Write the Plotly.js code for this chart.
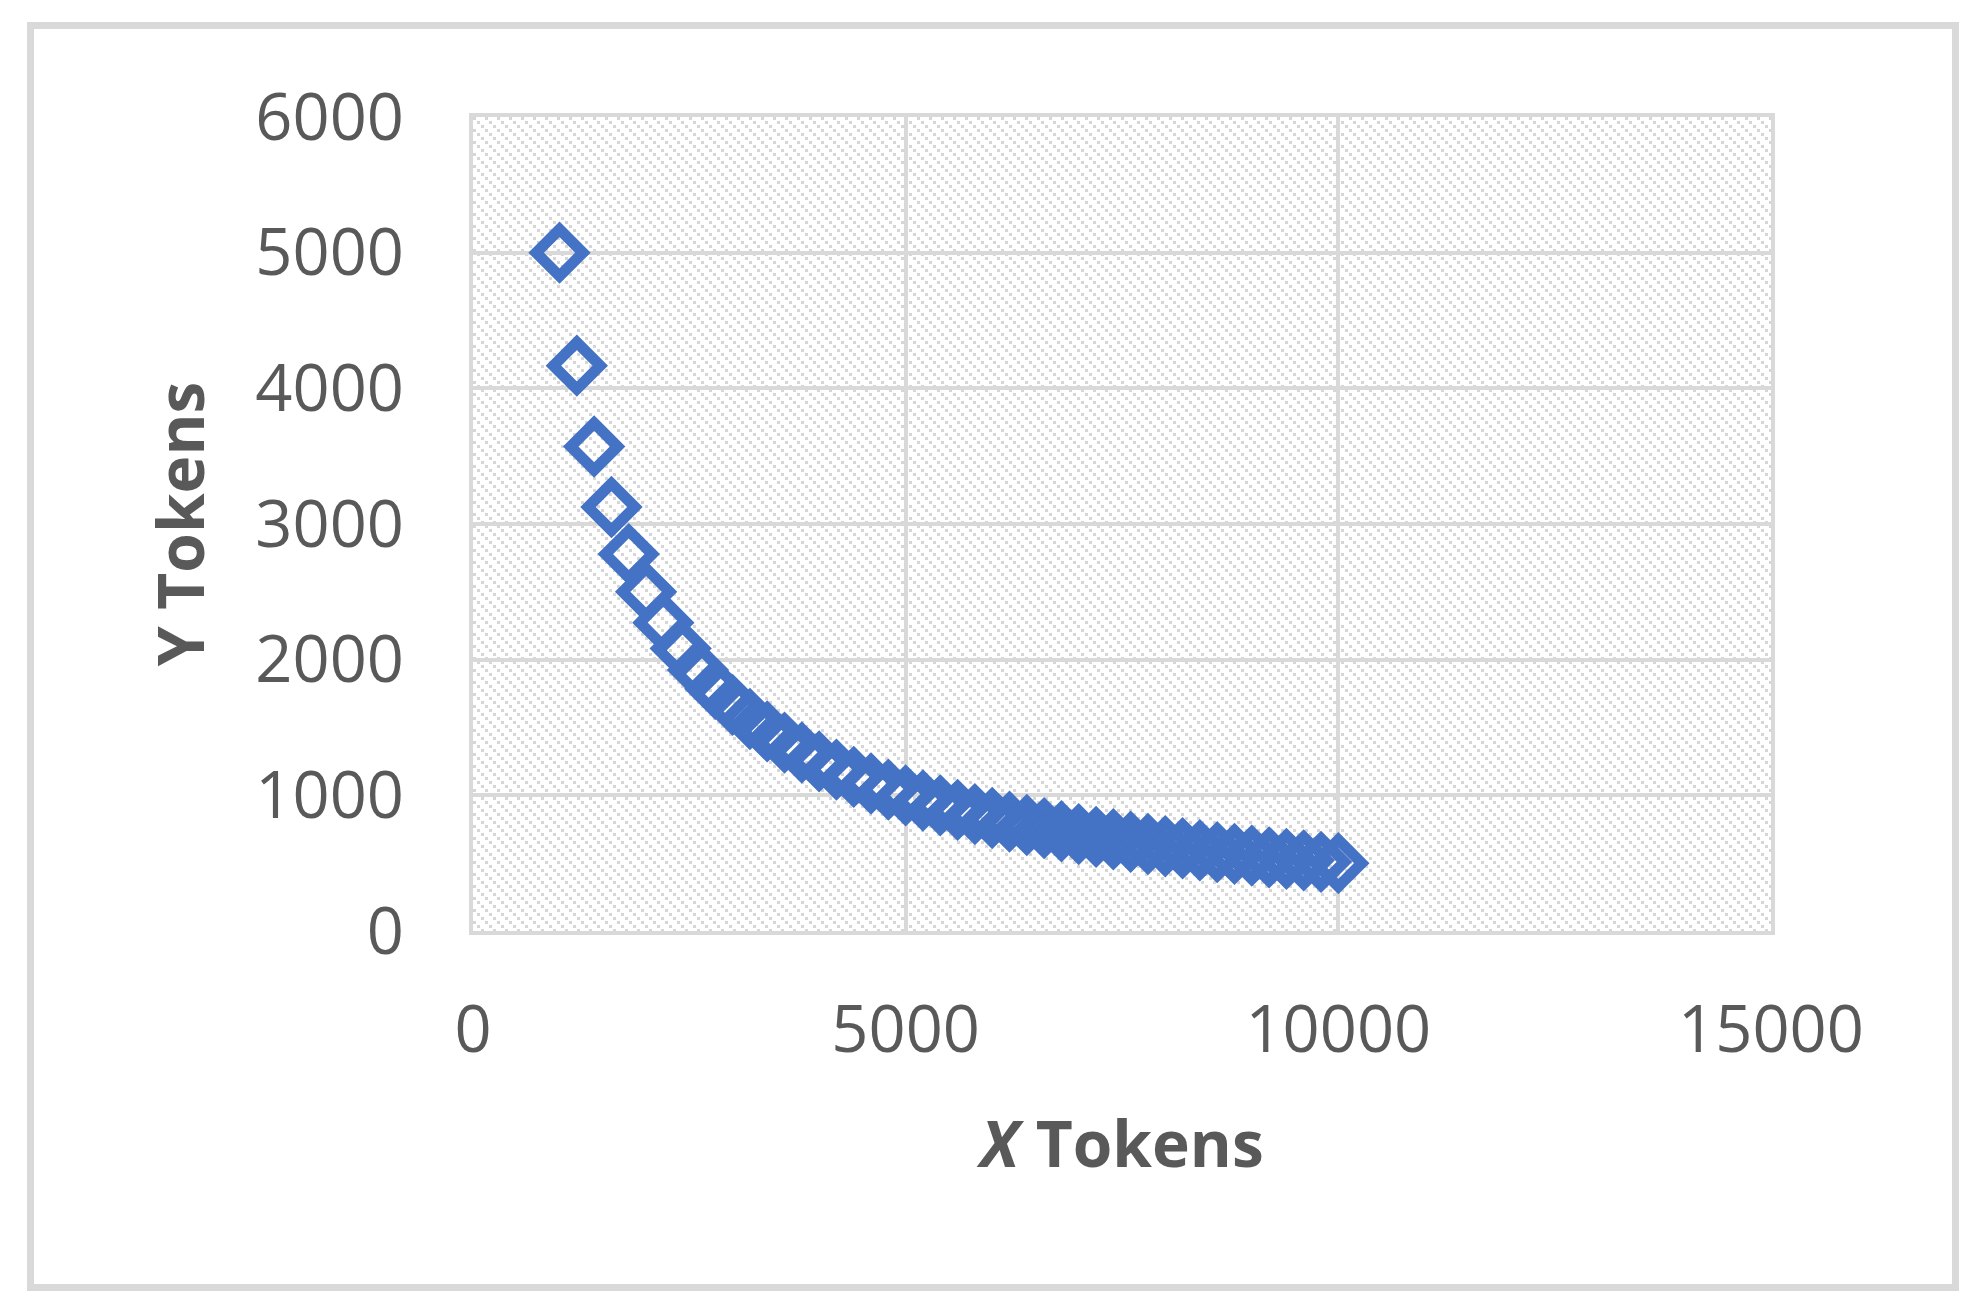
<!DOCTYPE html>
<html>
<head>
<meta charset="utf-8">
<script src="https://cdn.plot.ly/plotly-3.0.1.min.js"></script>
<style>
  body { margin: 0; background: #fff; }
  #plotArea { width: 1988px; height: 1316px; }
  #frame {
    position: absolute; left: 27px; top: 22px;
    width: 1918px; height: 1255px;
    border: 7px solid #d9d9d9; pointer-events: none;
  }
</style>
</head>
<body>
<div id="plotArea"></div>
<div id="frame"></div>
<script>
// x / y token pairs
var xTokens = [1000, 1200, 1400, 1600, 1800, 2000, 2200, 2400, 2600, 2800,
    3000, 3200, 3400, 3600, 3800, 4000, 4200, 4400, 4600, 4800,
    5000, 5200, 5400, 5600, 5800, 6000, 6200, 6400, 6600, 6800,
    7000, 7200, 7400, 7600, 7800, 8000, 8200, 8400, 8600, 8800,
    9000, 9200, 9400, 9600, 9800, 10000];
var yTokens = [5000, 4167, 3571, 3125, 2778, 2500, 2273, 2083, 1923, 1786,
    1667, 1563, 1471, 1389, 1316, 1250, 1190, 1136, 1087, 1042,
    1000, 962, 926, 893, 862, 833, 806, 781, 758, 735,
    714, 694, 676, 658, 641, 625, 610, 595, 581, 568,
    556, 543, 532, 521, 510, 500];

var xTicks = [0, 5000, 10000, 15000];
var yTicks = [0, 1000, 2000, 3000, 4000, 5000, 6000];

var margin = {l: 473, r: 217, t: 117, b: 385};
var plotW = 1988 - margin.l - margin.r;
var plotH = 1316 - margin.t - margin.b;

// dotted downward-diagonal hatch behind the plot area
var hatch = '<svg xmlns="http://www.w3.org/2000/svg" width="' + plotW + '" height="' + plotH + '" shape-rendering="crispEdges">' +
    '<defs><pattern id="h" width="12" height="12" patternUnits="userSpaceOnUse">' +
    '<rect x="0" y="0" width="3" height="3" fill="#d6d6d6"/>' +
    '<rect x="4" y="4" width="3" height="3" fill="#d6d6d6"/>' +
    '<rect x="8" y="8" width="3" height="3" fill="#d6d6d6"/>' +
    '</pattern></defs><rect width="100%" height="100%" fill="url(#h)"/></svg>';

var trace = {
    x: xTokens,
    y: yTokens,
    mode: 'markers',
    type: 'scatter',
    marker: {
        symbol: 'diamond-open',
        size: 36,
        color: '#4472C4',
        line: {width: 11, color: '#4472C4'}
    },
    hoverinfo: 'skip'
};

var tickFont = {family: 'Open Sans, sans-serif', size: 65, color: '#595959'};
var titleFont = {family: 'Open Sans, sans-serif', size: 64, color: '#595959'};

var layout = {
    width: 1988,
    height: 1316,
    margin: margin,
    paper_bgcolor: '#fff',
    plot_bgcolor: '#fff',
    showlegend: false,
    xaxis: {
        range: [0, 15000],
        tickvals: xTicks,
        ticktext: xTicks.map(String),
        tickfont: tickFont,
        ticks: '',
        ticklabelstandoff: 39,
        showgrid: true,
        gridcolor: '#d9d9d9',
        gridwidth: 4,
        zeroline: false,
        showline: true,
        mirror: true,
        linecolor: '#d9d9d9',
        linewidth: 4,
        title: {text: '<b><i>X</i> Tokens</b>', font: titleFont, standoff: 53}
    },
    yaxis: {
        range: [0, 6000],
        tickvals: yTicks,
        ticktext: yTicks.map(String),
        tickfont: tickFont,
        ticks: '',
        ticklabelstandoff: 52,
        showgrid: true,
        gridcolor: '#d9d9d9',
        gridwidth: 4,
        zeroline: false,
        showline: true,
        mirror: true,
        linecolor: '#d9d9d9',
        linewidth: 4,
        title: {text: '<b>Y Tokens</b>', font: titleFont, standoff: 31}
    },
    images: [{
        source: 'data:image/svg+xml;charset=utf-8,' + encodeURIComponent(hatch),
        xref: 'paper', yref: 'paper',
        x: 0, y: 1, sizex: 1, sizey: 1,
        xanchor: 'left', yanchor: 'top',
        sizing: 'stretch',
        layer: 'below'
    }]
};

Plotly.newPlot('plotArea', [trace], layout, {displayModeBar: false, staticPlot: true});
</script>
</body>
</html>
